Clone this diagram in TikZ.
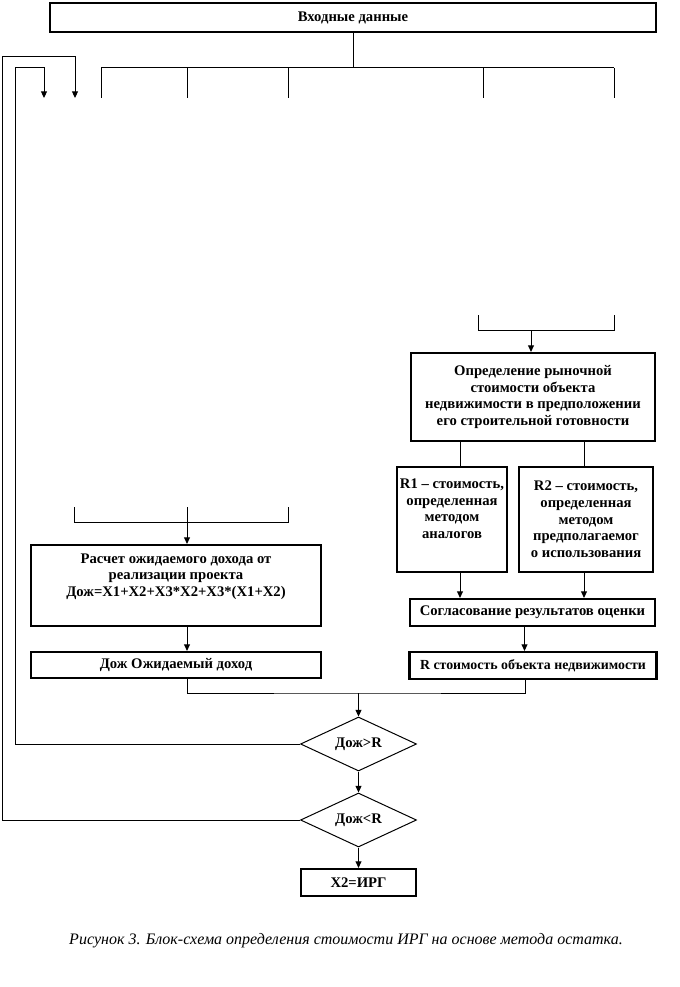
\documentclass[tikz,border=0pt]{standalone}
\usepackage{fontspec}
\setmainfont{Liberation Serif}
\usetikzlibrary{shapes.geometric,arrows.meta}

\tikzset{
  blok/.style={draw, line width=1.6pt, inner sep=0pt, align=center,
    font=\fontsize{11}{12.5}\selectfont\bfseries},
  uslovie/.style={draw, diamond, aspect=2, line width=0.75pt, inner sep=0pt,
    minimum width=87pt, minimum height=40.5pt,
    font=\fontsize{11}{12.5}\selectfont\bfseries},
  liniya/.style={line width=0.75pt},
  strelka/.style={liniya, -{Triangle[length=5pt,width=4.5pt]}}
}

\begin{document}
\begin{tikzpicture}[x=0.75pt,y=-0.75pt]
\useasboundingbox (0,0) rectangle (679,987);

%Input data on top, with the fork of lines under it
\node[blok, minimum width=454.5pt, minimum height=21.75pt] (vhod) at (353,17.5) {Входные данные};
\foreach \x/\n in {101/a,187/b,288/c,483/d,614/e}{
  \coordinate (v\n) at (\x,68);
  \coordinate (w\n) at (\x,98);
  \draw[liniya] (v\n) -- (w\n);
}
\draw[liniya] (va) -- (ve);
\draw[liniya] (vhod.south) -- (vhod.south |- va);

%Right branch: market value of the finished object
\coordinate (pl) at (478,315);
\coordinate (pr) at (614,315);
\coordinate (pm) at (531,330);
\node[blok, minimum width=183pt, minimum height=66pt] (opr) at (533,397)
  {Определение рыночной\\ стоимости объекта\\ недвижимости в предположении\\ его строительной готовности};
\node[blok, minimum width=82.5pt, minimum height=78.75pt] (rone) at (452,519.5)
  {R1 -- стоимость,\\ определенная\\ методом\\ аналогов\\ \strut};
\node[blok, minimum width=100.5pt, minimum height=78.75pt] (rtwo) at (586,519.5)
  {R2 -- стоимость,\\ определенная\\ методом\\ предполагаемог\\ о использования};
\node[blok, minimum width=183.75pt, minimum height=20.25pt] (sogl) at (532.5,612.5)
  {Согласование результатов оценки};
\node[blok, minimum width=185.25pt, minimum height=20.25pt, font=\fontsize{10.4}{12}\selectfont\bfseries] (rval) at (533,665.5)
  {R стоимость объекта недвижимости};

\draw[liniya] (pl) -- ++(0,15) -| (pr);
\draw[strelka] (pm) -- (pm |- opr.north);
\draw[liniya] ([xshift=6pt]rone.north |- opr.south) -- ([xshift=6pt]rone.north);
\draw[liniya] ([xshift=-1.5pt]rtwo.north |- opr.south) -- ([xshift=-1.5pt]rtwo.north);
\draw[strelka] ([xshift=6pt]rone.south) -- ([xshift=6pt]rone.south |- sogl.north);
\draw[strelka] ([xshift=-1.5pt]rtwo.south) -- ([xshift=-1.5pt]rtwo.south |- sogl.north);
\draw[strelka] ([xshift=-6pt]sogl.south) -- ([xshift=-6pt]sogl.south |- rval.north);

%Left branch: expected income
\coordinate (ll) at (74,507);
\coordinate (lr) at (288,507);
\coordinate (lm) at (187,507);
\node[blok, minimum width=217.5pt, minimum height=60.75pt] (rasch) at (176,585.5)
  {Расчет ожидаемого дохода от\\ реализации проекта\\ Дож=Х1+Х2+Х3*Х2+Х3*(Х1+Х2)\\[3pt]};
\node[blok, minimum width=217.5pt, minimum height=19.5pt] (dozh) at (176,665)
  {Дож Ожидаемый доход};

\draw[liniya] (ll) -- ++(0,15) -| (lr);
\draw[strelka] (lm) -- (lm |- rasch.north);
\draw[strelka] (lm |- rasch.south) -- (lm |- dozh.north);

%Comparison and the two loops back to the top
\coordinate (sliv) at (358.5,693);
\node[uslovie] (dia1) at (358.5,744) {Дож>R};
\node[uslovie] (dia2) at (358.5,820) {Дож<R};
\node[blok, minimum width=86.25pt, minimum height=20.25pt] (xtwo) at (358.5,882.5) {Х2=ИРГ};

\draw[liniya] (lm |- dozh.south) |- (sliv) -| ([xshift=-6pt]rval.south);
\draw[strelka] (sliv) -- (dia1.north);
\draw[strelka] (dia1.south) -- (dia2.north);
\draw[strelka] (dia2.south) -- (xtwo.north);

\coordinate (petlya1) at (15,68);
\coordinate (petlya2) at (2,57);
\coordinate (vozvr1) at (44,98);
\coordinate (vozvr2) at (75,98);
\draw[strelka] (dia1.west) -| (petlya1) -| (vozvr1);
\draw[strelka] (dia2.west) -| (petlya2) -| (vozvr2);

\node[font=\fontsize{12}{14}\selectfont\itshape] (podpis) at (346,941)
  {Рисунок 3. Блок-схема определения стоимости ИРГ на основе метода остатка.};
\end{tikzpicture}
\end{document}
